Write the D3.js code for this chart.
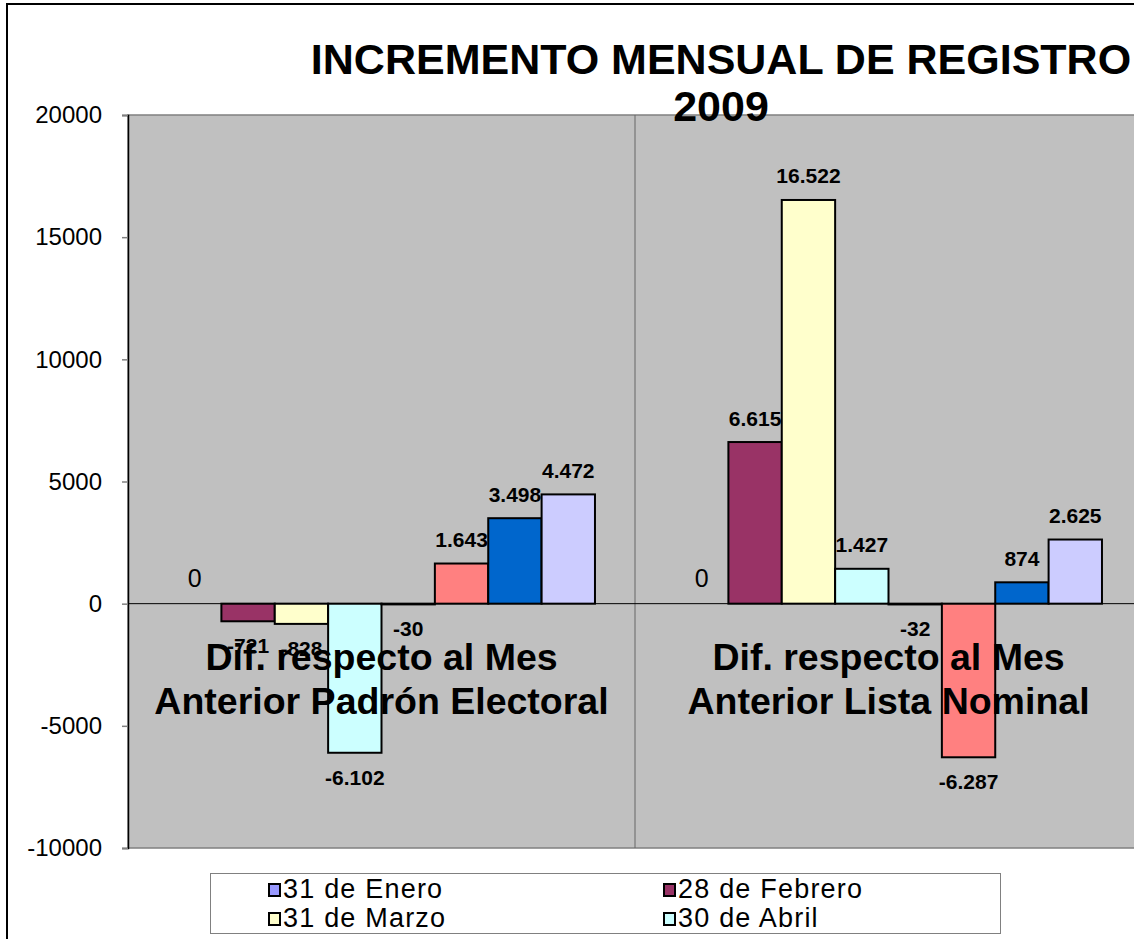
<!DOCTYPE html>
<html>
<head>
<meta charset="utf-8">
<script src="https://cdn.jsdelivr.net/npm/d3@7"></script>
<style>
  body { margin: 0; background: #fff; }
  svg { display: block; font-family: "Liberation Sans", Arial, sans-serif; }
</style>
</head>
<body>
<div id="chart"></div>
<script>
// categories and series
const categories = [
    ["Dif. respecto al Mes", "Anterior Padrón Electoral"],
    ["Dif. respecto al Mes", "Anterior Lista Nominal"]
];
const seriesNames = ["31 de Enero", "28 de Febrero", "31 de Marzo", "30 de Abril",
                     "31 de Mayo", "30 de Junio", "31 de Julio", "31 de Agosto"];
const padronValues = [0, -721, -828, -6102, -30, 1643, 3498, 4472];
const listaValues  = [0, 6615, 16522, 1427, -32, -6287, 874, 2625];
const yTicks = [-10000, -5000, 0, 5000, 10000, 15000, 20000];
const legendShown = 4; // only the first four entries fit in the legend box

const palette = ["#9999FF", "#993366", "#FFFFCC", "#CCFFFF",
                 "#660066", "#FF8080", "#0066CC", "#CCCCFF"];

const width = 1134;
const height = 939;
const plot = { left: 128, right: 1142, top: 115, bottom: 848 };

const svg = d3.select("#chart")
    .append("svg")
    .attr("width", width)
    .attr("height", height);

// chart area border (runs off the right and bottom of the picture)
svg.append("rect")
    .attr("x", 7).attr("y", 4)
    .attr("width", 1300).attr("height", 1100)
    .attr("fill", "#fff")
    .attr("stroke", "#000")
    .attr("stroke-width", 2);

// scales
const x0 = d3.scaleBand()
    .domain(d3.range(categories.length))
    .range([plot.left, plot.right]);

const x1 = d3.scaleBand()
    .domain(d3.range(seriesNames.length))
    .range([0, x0.bandwidth()])
    .paddingOuter(0.75);

const y = d3.scaleLinear()
    .domain([-10000, 20000])
    .range([plot.bottom, plot.top]);

const locale = d3.formatLocale({ decimal: ",", thousands: ".", grouping: [3], currency: ["$", ""], minus: "-" });
const fmt = locale.format(",d");
const tickFmt = locale.format("d");

// plot background
svg.append("rect")
    .attr("x", plot.left).attr("y", plot.top)
    .attr("width", plot.right - plot.left)
    .attr("height", plot.bottom - plot.top)
    .attr("fill", "#C0C0C0")
    .attr("stroke", "#808080")
    .attr("stroke-width", 1.5);

// divider between the two categories
svg.append("line")
    .attr("x1", x0(1)).attr("x2", x0(1))
    .attr("y1", plot.top).attr("y2", plot.bottom)
    .attr("stroke", "#666")
    .attr("stroke-width", 1);

// y axis
const yAxis = svg.append("g")
    .attr("transform", `translate(${plot.left},0)`)
    .call(d3.axisLeft(y).tickValues(yTicks).tickSize(6).tickPadding(20).tickFormat(tickFmt));
yAxis.attr("font-family", null);
yAxis.select(".domain").attr("stroke", "#000").attr("stroke-width", 1.5);
yAxis.selectAll(".tick line").attr("stroke", "#808080").attr("stroke-width", 1.5);
yAxis.selectAll(".tick text")
    .attr("font-size", 24)
    .attr("fill", "#000");

// bars
const rows = [];
categories.forEach((c, ci) => {
    const vals = ci === 0 ? padronValues : listaValues;
    vals.forEach((v, si) => rows.push({ ci, si, v }));
});

svg.append("g").selectAll("rect")
    .data(rows)
    .enter()
    .append("rect")
    .attr("x", d => x0(d.ci) + x1(d.si))
    .attr("y", d => y(Math.max(0, d.v)))
    .attr("width", x1.bandwidth())
    .attr("height", d => Math.abs(y(d.v) - y(0)))
    .attr("fill", d => palette[d.si])
    .attr("stroke", "#000")
    .attr("stroke-width", 2);

// zero line
svg.append("line")
    .attr("x1", plot.left).attr("x2", width)
    .attr("y1", y(0)).attr("y2", y(0))
    .attr("stroke", "#000")
    .attr("stroke-width", 1);

// data labels
svg.append("g").selectAll("text")
    .data(rows)
    .enter()
    .append("text")
    .attr("x", d => x0(d.ci) + x1(d.si) + x1.bandwidth() / 2)
    .attr("y", d => d.v >= 0 ? y(d.v) - 16.5 : y(d.v) + 32)
    .attr("text-anchor", "middle")
    .attr("font-size", d => d.si === 0 ? 25 : 21)
    .attr("font-weight", d => d.si === 0 ? "normal" : "bold")
    .text(d => fmt(d.v));

// category labels, drawn over the bars
categories.forEach((lines, ci) => {
    const t = svg.append("text")
        .attr("text-anchor", "middle")
        .attr("font-size", 37.5)
        .attr("font-weight", "bold");
    lines.forEach((line, li) => {
        t.append("tspan")
            .attr("x", x0(ci) + x0.bandwidth() / 2)
            .attr("y", 670 + li * 44)
            .text(line);
    });
});

// title
const title = svg.append("text")
    .attr("text-anchor", "middle")
    .attr("font-size", 43)
    .attr("font-weight", "bold");
title.append("tspan").attr("x", 721).attr("y", 74).text("INCREMENTO MENSUAL DE REGISTRO");
title.append("tspan").attr("x", 721).attr("y", 121).text("2009");

// legend
const legend = svg.append("g");
legend.append("rect")
    .attr("x", 210.5).attr("y", 873.5)
    .attr("width", 790).attr("height", 60)
    .attr("fill", "#fff")
    .attr("stroke", "#808080")
    .attr("stroke-width", 1);

const legendItems = legend.selectAll("g.item")
    .data(seriesNames.slice(0, legendShown))
    .enter()
    .append("g")
    .attr("class", "item")
    .attr("transform", (d, i) => `translate(${i % 2 === 0 ? 269 : 664},${884 + Math.floor(i / 2) * 29})`);

legendItems.append("rect")
    .attr("width", 11).attr("height", 12)
    .attr("fill", (d, i) => palette[i])
    .attr("stroke", "#000")
    .attr("stroke-width", 2);

legendItems.append("text")
    .attr("x", 14)
    .attr("y", 14)
    .attr("font-size", 27)
    .attr("letter-spacing", 1.2)
    .text(d => d);
</script>
</body>
</html>
